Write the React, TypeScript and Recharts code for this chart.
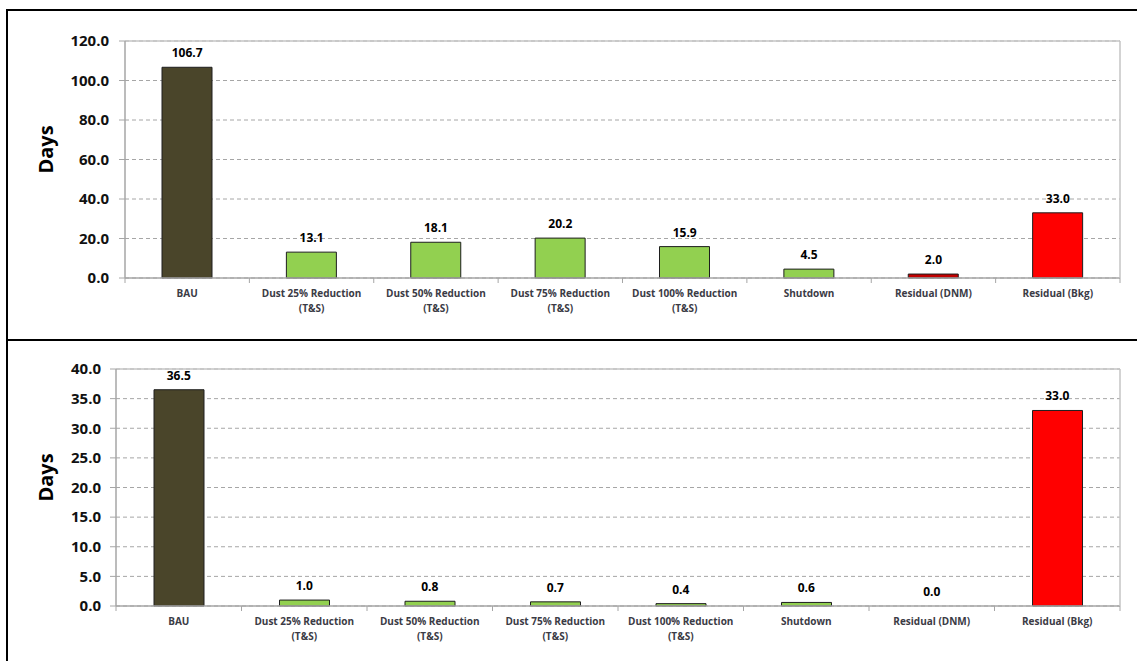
import {
  ComposedChart,
  Bar,
  Line,
  XAxis,
  YAxis,
  CartesianGrid,
  Cell,
  LabelList,
  ReferenceLine,
} from "recharts";

const categories = [
  "BAU",
  "Dust 25% Reduction (T&S)",
  "Dust 50% Reduction (T&S)",
  "Dust 75% Reduction (T&S)",
  "Dust 100% Reduction (T&S)",
  "Shutdown",
  "Residual (DNM)",
  "Residual (Bkg)",
];
const topDays = [106.7, 13.1, 18.1, 20.2, 15.9, 4.5, 2.0, 33.0];
const bottomDays = [36.5, 1.0, 0.8, 0.7, 0.4, 0.6, 0.0, 33.0];
const topTicks = [0, 20, 40, 60, 80, 100, 120];
const bottomTicks = [0, 5, 10, 15, 20, 25, 30, 35, 40];
const barColors = [
  "#4a452a",
  "#92d050",
  "#92d050",
  "#92d050",
  "#92d050",
  "#92d050",
  "#c00000",
  "#ff0000",
];

const FONT = "'Open Sans', 'DejaVu Sans', sans-serif";
const AXIS = "#a6a6a6";
const BORDER = "#c4c4c4";

// category name plus the small tick marks on the band edges either side
function CategoryTick(props: any) {
  const { x, y, payload, index, width, visibleTicksCount } = props;
  const half =
    typeof payload.offset === "number" && payload.offset > 0
      ? payload.offset
      : width / visibleTicksCount / 2;
  const name: string = payload.value;
  const cut = name.indexOf(" (T&S)");
  const lines = cut >= 0 ? [name.slice(0, cut), "(T&S)"] : [name];
  const edges = index === categories.length - 1 ? [x - half, x + half] : [x - half];
  return (
    <g>
      {edges.map((ex, i) => (
        <line key={`e${i}`} x1={ex} x2={ex} y1={y} y2={y + 5} stroke={AXIS} />
      ))}
      {lines.map((line, i) => (
        <text
          key={i}
          x={x}
          y={y + 18.5 + i * 15.5}
          textAnchor="middle"
          fontFamily={FONT}
          fontWeight={700}
          fontSize={10}
          fill="#3b3b45"
        >
          {line}
        </text>
      ))}
    </g>
  );
}

const NoTick = () => <g />;

interface PanelProps {
  values: number[];
  ticks: number[];
  height: number;
  top: number;
  xAxisHeight: number;
  yAxisWidth: number;
  labelMargin: number;
}

function DaysPanel({ values, ticks, height, top, xAxisHeight, yAxisWidth, labelMargin }: PanelProps) {
  const data = categories.map((name, i) => ({ name, days: values[i] }));
  const max = ticks[ticks.length - 1];

  return (
    <ComposedChart
      width={1137}
      height={height}
      data={data}
      margin={{ top, right: 16, left: 0, bottom: 0 }}
    >
      <CartesianGrid vertical={false} stroke={AXIS} strokeDasharray="4 3" />
      <XAxis
        dataKey="name"
        height={xAxisHeight}
        axisLine={{ stroke: AXIS, strokeWidth: 1.5 }}
        tickLine={false}
        tickSize={0}
        tickMargin={0}
        interval={0}
        tick={CategoryTick}
      />
      <YAxis
        domain={[0, max]}
        ticks={ticks}
        width={yAxisWidth}
        axisLine={{ stroke: AXIS, strokeWidth: 1.5 }}
        tickLine={{ stroke: AXIS }}
        tickSize={6}
        tickMargin={labelMargin}
        tickFormatter={(v: number) => v.toFixed(1)}
        tick={{ fontFamily: FONT, fontWeight: 700, fontSize: 15, fill: "#111111" }}
        label={({ viewBox }: any) => {
          const cy = viewBox.y + viewBox.height / 2 - 10;
          return (
            <text
              x={45}
              y={cy}
              transform={`rotate(-90, 45, ${cy})`}
              textAnchor="middle"
              dominantBaseline="central"
              fontFamily={FONT}
              fontWeight={700}
              fontSize={20}
              fill="#000000"
            >
              Days
            </text>
          );
        }}
      />
      {/* right edge of the plot frame */}
      <YAxis
        yAxisId="border"
        orientation="right"
        width={1}
        domain={[0, max]}
        axisLine={{ stroke: BORDER, strokeWidth: 1.5 }}
        tickLine={false}
        tick={NoTick}
      />
      <ReferenceLine y={max} stroke={BORDER} strokeWidth={1.5} />
      <Bar
        dataKey="days"
        barSize={50}
        stroke="#1e1e1e"
        strokeWidth={1}
        isAnimationActive={false}
      >
        {data.map((d, i) => (
          <Cell key={d.name} fill={barColors[i]} />
        ))}
      </Bar>
      {/* value labels ride on an invisible line so zero values still get one */}
      <Line
        dataKey="days"
        stroke="none"
        dot={false}
        activeDot={false}
        isAnimationActive={false}
      >
        <LabelList
          dataKey="days"
          position="top"
          offset={10}
          formatter={(v: any) => Number(v).toFixed(1)}
          style={{ fontFamily: FONT, fontWeight: 700, fontSize: 12, fill: "#000000" }}
        />
      </Line>
    </ComposedChart>
  );
}

export default function App() {
  return (
    <div
      style={{
        position: "absolute",
        left: 0,
        top: 0,
        width: 1137,
        height: 661,
        background: "#ffffff",
        overflow: "hidden",
      }}
    >
      <div style={{ position: "absolute", left: 0, top: 0 }}>
        <DaysPanel
          values={topDays}
          ticks={topTicks}
          height={340}
          top={41}
          xAxisHeight={62}
          yAxisWidth={125}
          labelMargin={10}
        />
      </div>
      <div style={{ position: "absolute", left: 0, top: 340 }}>
        <DaysPanel
          values={bottomDays}
          ticks={bottomTicks}
          height={321}
          top={29}
          xAxisHeight={55}
          yAxisWidth={116}
          labelMargin={9}
        />
      </div>
      {/* panel frame lines */}
      <div style={{ position: "absolute", left: 6, top: 9, width: 1131, height: 2, background: "#000" }} />
      <div style={{ position: "absolute", left: 6, top: 339, width: 1131, height: 2, background: "#000" }} />
      <div style={{ position: "absolute", left: 6, top: 9, width: 2, height: 652, background: "#000" }} />
    </div>
  );
}
